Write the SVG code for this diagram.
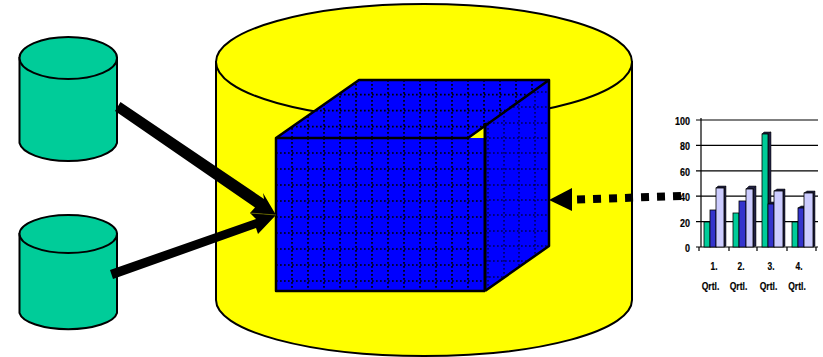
<svg xmlns="http://www.w3.org/2000/svg" width="823" height="357" viewBox="0 0 823 357">
<style>
.cyl{stroke:#000;stroke-width:2}
.g{fill:#00CC99}
.y{fill:#FFFF00}
.cube{fill:#0000FF;stroke:none}
.edge{fill:none;stroke:#000;stroke-width:2.5;stroke-linejoin:round}
.grid{fill:none;stroke:#000;stroke-width:1.7;stroke-dasharray:1.7 2.3}
.gridr{fill:none;stroke:#000;stroke-width:1;stroke-dasharray:1.7 2.3}
.ax{fill:none;stroke:#000;stroke-width:1.2}
.b1{fill:#00CC99;stroke:#000;stroke-width:.8}
.b2{fill:#3333CC;stroke:#000;stroke-width:.8}
.b3{fill:#CCCCFF;stroke:#000;stroke-width:.8}
.s{fill:#222244;stroke:#000;stroke-width:.5}
text{font-family:"Liberation Sans",Arial,sans-serif;font-weight:bold;fill:#000;stroke:#000;stroke-width:.2}
.n{font-size:11px}
.q{font-size:10.500px}
</style>
<defs>
<clipPath id="cf"><rect x="276" y="138" width="209" height="153"/></clipPath>
<clipPath id="ct"><polygon points="276,138 359,80 549,80 468,138"/></clipPath>
<clipPath id="cr"><polygon points="485,123 549,80 549,246 485,291"/></clipPath>
</defs>
<g id="warehouse">
<path class="cyl y" d="M216,62 V300 A208,56 0 0 0 632,300 V62 Z"/>
<ellipse class="cyl y" cx="424" cy="62" rx="208" ry="58"/>
</g>
<g id="source-1">
<path class="cyl g" d="M19.500,58 V143 A49,20 0 0 0 117,143 V58 Z"/>
<ellipse class="cyl g" cx="68.250" cy="58" rx="48.750" ry="21"/>
</g>
<g id="source-2">
<path class="cyl g" d="M19.500,234 V313 A49,18 0 0 0 117,313 V234 Z"/>
<ellipse class="cyl g" cx="68.250" cy="234" rx="48.750" ry="19"/>
</g>
<g id="cube">
<polygon class="cube" points="276,138 359,80 549,80 468,138"/>
<polygon class="cube" points="485,123 549,80 549,246 485,291"/>
<rect class="cube" x="276" y="138" width="209" height="153"/>
<path class="grid" clip-path="url(#ct)" d="M276,94.700H549M276,110.700H549M276,126.700H549M292,80V138M308,80V138M324,80V138M340,80V138M356,80V138M372,80V138M388,80V138M404,80V138M420,80V138M436,80V138M452,80V138M468,80V138M484,80V138M500,80V138M516,80V138M532,80V138"/>
<path class="grid" clip-path="url(#cf)" d="M276,153H485M276,169H485M276,185H485M276,201H485M276,217H485M276,233H485M276,249H485M276,265H485M276,281H485M292,138V291M308,138V291M324,138V291M340,138V291M356,138V291M372,138V291M388,138V291M404,138V291M420,138V291M436,138V291M452,138V291M468,138V291"/>
<path class="gridr" clip-path="url(#cr)" d="M485,92H549M485,107H549M485,123H549M485,138H549M485,153H549M485,169H549M485,185H549M485,200H549M485,215H549M485,231H549M485,246H549M485,261H549M485,277H549M488,80V291M504,80V291M519,80V291M535,80V291"/>
<path class="edge" d="M276,138 L359,80 H549 L468,138 H276 V291 H485 M549,80 V246 L485,291"/>
<path d="M485,123 V291" fill="none" stroke="#000" stroke-width="3"/>
</g>
<g id="connectors">
<g fill="#000">
<polygon points="120.500,102 264,199 263,193 276,215 250,213 255,207.500 115,111"/>
<polygon points="110,270 256,219 250,213 276,215 258,234 256,228 113,279"/>
</g>
<path d="M250,213 L276,215" stroke="#777700" stroke-width=".7" fill="none"/>
<g>
<path d="M681,196 L577,199.500" stroke="#000" stroke-width="8" stroke-dasharray="8 8" fill="none"/>
<polygon points="549,200 572,188 572,211" fill="#000"/>
</g>
</g>
<g id="chart">
<path d="M701,120H818M701,145.400H818M701,170.800H818M701,196.200H818M701,221.600H818" class="ax"/>
<path d="M701,118V247H818M696,120H701M696,145.400H701M696,170.800H701M696,196.200H701M696,221.600H701M696,247H701M699,247V251M729,247V251M757,247V251M787,247V251M816,247V251" class="ax"/>
<polygon class="s" points="710,222 712,220 712,246 710,247"/><rect class="b1" x="704" y="222" width="6" height="25"/>
<polygon class="s" points="716,210 718,208 718,246 716,247"/><rect class="b2" x="710" y="210" width="6" height="37"/>
<polygon class="s" points="716,188 718,186 726,186 724,188"/><polygon class="s" points="724,188 726,186 726,246 724,247"/><rect class="b3" x="716" y="188" width="8" height="59"/>
<polygon class="s" points="739,213 741,211 741,246 739,247"/><rect class="b1" x="733" y="213" width="6" height="34"/>
<polygon class="s" points="746,201 748,199 748,246 746,247"/><rect class="b2" x="739" y="201" width="7" height="46"/>
<polygon class="s" points="746,189 749,186 756,186 753,189"/><polygon class="s" points="753,189 756,186 756,246 753,247"/><rect class="b3" x="746" y="189" width="7" height="58"/>
<polygon class="s" points="762,134 764,132 771,132 768,134"/><polygon class="s" points="768,134 771,132 771,246 768,247"/><rect class="b1" x="762" y="134" width="6" height="113"/>
<polygon class="s" points="768,204 771,202 776,202 774,204"/><polygon class="s" points="774,204 776,202 776,246 774,247"/><rect class="b2" x="768" y="204" width="6" height="43"/>
<polygon class="s" points="774,191 777,189 785,189 783,191"/><polygon class="s" points="783,191 785,189 785,246 783,247"/><rect class="b3" x="774" y="191" width="9" height="56"/>
<polygon class="s" points="798,222 800,220 800,246 798,247"/><rect class="b1" x="792" y="222" width="6" height="25"/>
<polygon class="s" points="798,208 801,206 806,206 804,208"/><polygon class="s" points="804,208 806,206 806,246 804,247"/><rect class="b2" x="798" y="208" width="6" height="39"/>
<polygon class="s" points="804,193 807,191 815,191 813,193"/><polygon class="s" points="813,193 815,191 815,246 813,247"/><rect class="b3" x="804" y="193" width="9" height="54"/>
<g text-anchor="end">
<text x="690" y="124.500" class="n" textLength="15" lengthAdjust="spacingAndGlyphs">100</text>
<text x="690" y="149.500" class="n" textLength="10" lengthAdjust="spacingAndGlyphs">80</text>
<text x="690" y="175.500" class="n" textLength="10" lengthAdjust="spacingAndGlyphs">60</text>
<text x="690" y="200.500" class="n" textLength="10" lengthAdjust="spacingAndGlyphs">40</text>
<text x="690" y="226.500" class="n" textLength="10" lengthAdjust="spacingAndGlyphs">20</text>
<text x="690" y="251.500" class="n" textLength="5" lengthAdjust="spacingAndGlyphs">0</text>
</g>
<g text-anchor="middle">
<text x="714" y="270" class="q" textLength="7" lengthAdjust="spacingAndGlyphs">1.</text><text x="741" y="270" class="q" textLength="7" lengthAdjust="spacingAndGlyphs">2.</text><text x="771" y="270" class="q" textLength="7" lengthAdjust="spacingAndGlyphs">3.</text><text x="799" y="270" class="q" textLength="7" lengthAdjust="spacingAndGlyphs">4.</text>
<text x="710.500" y="290" class="q" textLength="17.500" lengthAdjust="spacingAndGlyphs">Qrtl.</text><text x="738.500" y="290" class="q" textLength="17.500" lengthAdjust="spacingAndGlyphs">Qrtl.</text><text x="768.500" y="290" class="q" textLength="17.500" lengthAdjust="spacingAndGlyphs">Qrtl.</text><text x="797" y="290" class="q" textLength="17.500" lengthAdjust="spacingAndGlyphs">Qrtl.</text>
</g>
</g>
</svg>
